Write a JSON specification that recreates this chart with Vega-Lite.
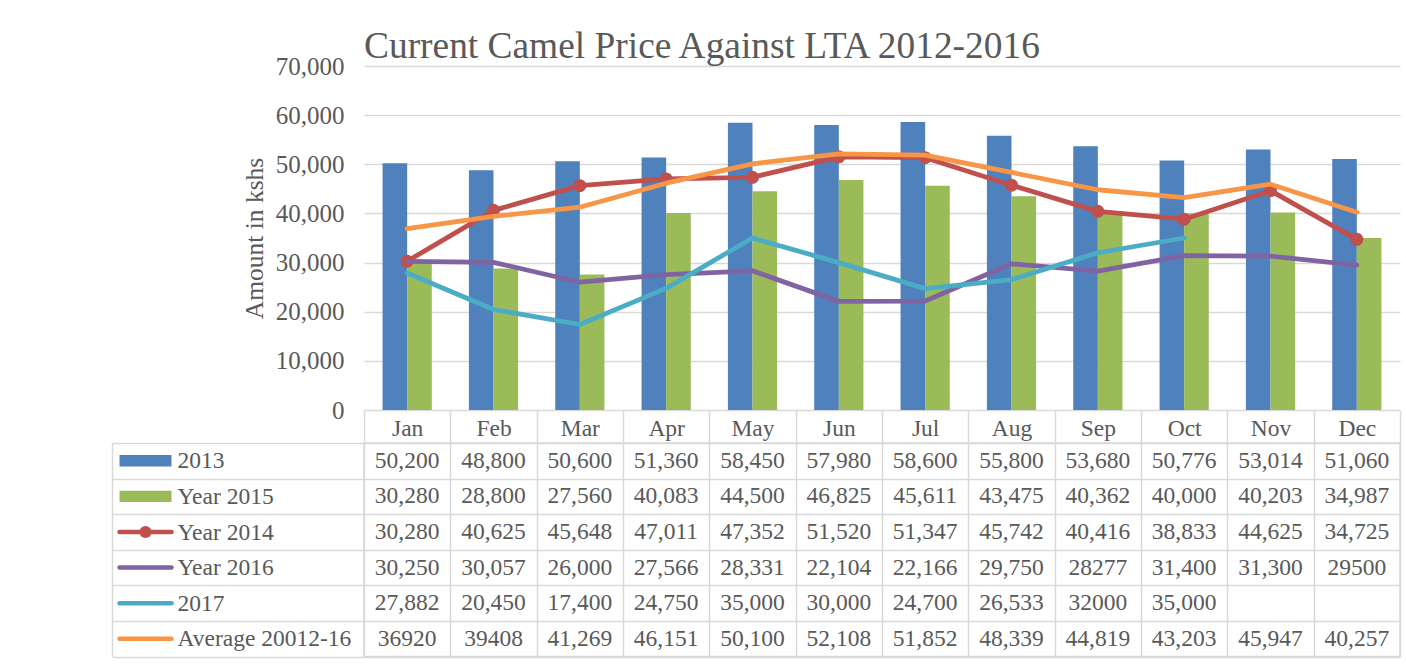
{
  "$schema": "https://vega.github.io/schema/vega-lite/v6.json",
  "padding": {"left": 110, "top": 27, "right": 8, "bottom": 14},
  "autosize": {"type": "pad"},
  "background": "white",
  "bounds": "flush",
  "columns": 2,
  "spacing": {"row": 33, "column": 185},
  "config": {
    "font": "Liberation Serif",
    "view": {"stroke": null},
    "axis": {"labelFont": "Liberation Serif", "titleFont": "Liberation Serif", "labelColor": "#595959", "titleColor": "#595959", "labelFontSize": 23.5, "titleFontSize": 25.5, "titleFontWeight": "normal"}
  },
  "datasets": {
    "prices": [
      {"month": "Jan", "series": "2013", "value": 50200, "label": "50,200"},
      {"month": "Feb", "series": "2013", "value": 48800, "label": "48,800"},
      {"month": "Mar", "series": "2013", "value": 50600, "label": "50,600"},
      {"month": "Apr", "series": "2013", "value": 51360, "label": "51,360"},
      {"month": "May", "series": "2013", "value": 58450, "label": "58,450"},
      {"month": "Jun", "series": "2013", "value": 57980, "label": "57,980"},
      {"month": "Jul", "series": "2013", "value": 58600, "label": "58,600"},
      {"month": "Aug", "series": "2013", "value": 55800, "label": "55,800"},
      {"month": "Sep", "series": "2013", "value": 53680, "label": "53,680"},
      {"month": "Oct", "series": "2013", "value": 50776, "label": "50,776"},
      {"month": "Nov", "series": "2013", "value": 53014, "label": "53,014"},
      {"month": "Dec", "series": "2013", "value": 51060, "label": "51,060"},
      {"month": "Jan", "series": "Year 2015", "value": 30280, "label": "30,280"},
      {"month": "Feb", "series": "Year 2015", "value": 28800, "label": "28,800"},
      {"month": "Mar", "series": "Year 2015", "value": 27560, "label": "27,560"},
      {"month": "Apr", "series": "Year 2015", "value": 40083, "label": "40,083"},
      {"month": "May", "series": "Year 2015", "value": 44500, "label": "44,500"},
      {"month": "Jun", "series": "Year 2015", "value": 46825, "label": "46,825"},
      {"month": "Jul", "series": "Year 2015", "value": 45611, "label": "45,611"},
      {"month": "Aug", "series": "Year 2015", "value": 43475, "label": "43,475"},
      {"month": "Sep", "series": "Year 2015", "value": 40362, "label": "40,362"},
      {"month": "Oct", "series": "Year 2015", "value": 40000, "label": "40,000"},
      {"month": "Nov", "series": "Year 2015", "value": 40203, "label": "40,203"},
      {"month": "Dec", "series": "Year 2015", "value": 34987, "label": "34,987"},
      {"month": "Jan", "series": "Year 2014", "value": 30280, "label": "30,280"},
      {"month": "Feb", "series": "Year 2014", "value": 40625, "label": "40,625"},
      {"month": "Mar", "series": "Year 2014", "value": 45648, "label": "45,648"},
      {"month": "Apr", "series": "Year 2014", "value": 47011, "label": "47,011"},
      {"month": "May", "series": "Year 2014", "value": 47352, "label": "47,352"},
      {"month": "Jun", "series": "Year 2014", "value": 51520, "label": "51,520"},
      {"month": "Jul", "series": "Year 2014", "value": 51347, "label": "51,347"},
      {"month": "Aug", "series": "Year 2014", "value": 45742, "label": "45,742"},
      {"month": "Sep", "series": "Year 2014", "value": 40416, "label": "40,416"},
      {"month": "Oct", "series": "Year 2014", "value": 38833, "label": "38,833"},
      {"month": "Nov", "series": "Year 2014", "value": 44625, "label": "44,625"},
      {"month": "Dec", "series": "Year 2014", "value": 34725, "label": "34,725"},
      {"month": "Jan", "series": "Year 2016", "value": 30250, "label": "30,250"},
      {"month": "Feb", "series": "Year 2016", "value": 30057, "label": "30,057"},
      {"month": "Mar", "series": "Year 2016", "value": 26000, "label": "26,000"},
      {"month": "Apr", "series": "Year 2016", "value": 27566, "label": "27,566"},
      {"month": "May", "series": "Year 2016", "value": 28331, "label": "28,331"},
      {"month": "Jun", "series": "Year 2016", "value": 22104, "label": "22,104"},
      {"month": "Jul", "series": "Year 2016", "value": 22166, "label": "22,166"},
      {"month": "Aug", "series": "Year 2016", "value": 29750, "label": "29,750"},
      {"month": "Sep", "series": "Year 2016", "value": 28277, "label": "28277"},
      {"month": "Oct", "series": "Year 2016", "value": 31400, "label": "31,400"},
      {"month": "Nov", "series": "Year 2016", "value": 31300, "label": "31,300"},
      {"month": "Dec", "series": "Year 2016", "value": 29500, "label": "29500"},
      {"month": "Jan", "series": "2017", "value": 27882, "label": "27,882"},
      {"month": "Feb", "series": "2017", "value": 20450, "label": "20,450"},
      {"month": "Mar", "series": "2017", "value": 17400, "label": "17,400"},
      {"month": "Apr", "series": "2017", "value": 24750, "label": "24,750"},
      {"month": "May", "series": "2017", "value": 35000, "label": "35,000"},
      {"month": "Jun", "series": "2017", "value": 30000, "label": "30,000"},
      {"month": "Jul", "series": "2017", "value": 24700, "label": "24,700"},
      {"month": "Aug", "series": "2017", "value": 26533, "label": "26,533"},
      {"month": "Sep", "series": "2017", "value": 32000, "label": "32000"},
      {"month": "Oct", "series": "2017", "value": 35000, "label": "35,000"},
      {"month": "Jan", "series": "Average 20012-16", "value": 36920, "label": "36920"},
      {"month": "Feb", "series": "Average 20012-16", "value": 39408, "label": "39408"},
      {"month": "Mar", "series": "Average 20012-16", "value": 41269, "label": "41,269"},
      {"month": "Apr", "series": "Average 20012-16", "value": 46151, "label": "46,151"},
      {"month": "May", "series": "Average 20012-16", "value": 50100, "label": "50,100"},
      {"month": "Jun", "series": "Average 20012-16", "value": 52108, "label": "52,108"},
      {"month": "Jul", "series": "Average 20012-16", "value": 51852, "label": "51,852"},
      {"month": "Aug", "series": "Average 20012-16", "value": 48339, "label": "48,339"},
      {"month": "Sep", "series": "Average 20012-16", "value": 44819, "label": "44,819"},
      {"month": "Oct", "series": "Average 20012-16", "value": 43203, "label": "43,203"},
      {"month": "Nov", "series": "Average 20012-16", "value": 45947, "label": "45,947"},
      {"month": "Dec", "series": "Average 20012-16", "value": 40257, "label": "40,257"}
    ]
  },
  "concat": [
    {"width": 67, "height": 344, "data": {"values": []}, "mark": "point"},
    {
      "width": 1036,
      "height": 344,
      "title": {"text": "Current Camel Price Against LTA 2012-2016", "anchor": "start", "frame": "group", "fontSize": 37.4, "fontWeight": "normal", "color": "#595959", "baseline": "alphabetic", "offset": -41, "dx": 0},
      "data": {"name": "prices"},
      "encoding": {
        "x": {"field": "month", "type": "nominal", "sort": ["Jan", "Feb", "Mar", "Apr", "May", "Jun", "Jul", "Aug", "Sep", "Oct", "Nov", "Dec"], "scale": {"type": "band", "paddingInner": 0.43, "paddingOuter": 0.215}, "axis": null},
        "y": {"field": "value", "type": "quantitative", "scale": {"domain": [0, 70000], "nice": false}, "axis": {"values": [0, 10000, 20000, 30000, 40000, 50000, 60000, 70000], "format": ",d", "title": "Amount in kshs", "ticks": false, "domain": false, "labelFontSize": 25, "labelPadding": 20, "titlePadding": 8, "gridColor": "#D9D9D9", "gridWidth": 1.5}},
        "color": {"field": "series", "type": "nominal", "scale": {"domain": ["2013", "Year 2015", "Year 2014", "Year 2016", "2017", "Average 20012-16"], "range": ["#4F81BD", "#9BBB59", "#C0504D", "#8064A2", "#4BACC6", "#F79646"]}, "legend": null}
      },
      "layer": [
        {"transform": [{"filter": "datum.series === '2013' || datum.series === 'Year 2015'"}], "mark": {"type": "bar"}, "encoding": {"xOffset": {"field": "series", "type": "nominal", "sort": ["2013", "Year 2015"]}}},
        {"transform": [{"filter": "datum.series === 'Year 2014'"}], "mark": {"type": "line", "strokeWidth": 4.8, "strokeJoin": "round", "strokeCap": "round"}},
        {"transform": [{"filter": "datum.series === 'Year 2014'"}], "mark": {"type": "point", "filled": true, "size": 170, "opacity": 1}},
        {"transform": [{"filter": "datum.series === 'Year 2016'"}], "mark": {"type": "line", "strokeWidth": 4.8, "strokeJoin": "round", "strokeCap": "round"}},
        {"transform": [{"filter": "datum.series === '2017'"}], "mark": {"type": "line", "strokeWidth": 4.8, "strokeJoin": "round", "strokeCap": "round"}},
        {"transform": [{"filter": "datum.series === 'Average 20012-16'"}], "mark": {"type": "line", "strokeWidth": 4.8, "strokeJoin": "round", "strokeCap": "round"}}
      ]
    },
    {
      "width": 67,
      "height": 213.6,
      "data": {"name": "prices"},
      "transform": [{"filter": "datum.month === 'Jan'"}],
      "encoding": {
        "y": {"field": "series", "type": "nominal", "sort": ["2013", "Year 2015", "Year 2014", "Year 2016", "2017", "Average 20012-16"], "scale": {"type": "band", "paddingInner": 0, "paddingOuter": 0}, "axis": {"title": null, "labels": false, "ticks": false, "grid": false, "domain": true, "domainColor": "#D9D9D9", "domainWidth": 1.5}},
        "color": {"field": "series", "type": "nominal", "scale": {"domain": ["2013", "Year 2015", "Year 2014", "Year 2016", "2017", "Average 20012-16"], "range": ["#4F81BD", "#9BBB59", "#C0504D", "#8064A2", "#4BACC6", "#F79646"]}, "legend": null}
      },
      "layer": [
        {"transform": [{"filter": "datum.series === '2013' || datum.series === 'Year 2015'"}], "mark": {"type": "point", "shape": "M-1,-0.22H1V0.22H-1Z", "size": 2704, "filled": true, "opacity": 1}},
        {"transform": [{"filter": "datum.series !== '2013' && datum.series !== 'Year 2015'"}], "mark": {"type": "point", "shape": "M-1,0H1", "size": 2704, "filled": false, "strokeWidth": 4.5, "strokeCap": "round", "opacity": 1}},
        {"transform": [{"filter": "datum.series === 'Year 2014'"}], "mark": {"type": "point", "shape": "circle", "size": 150, "filled": true, "opacity": 1}}
      ]
    },
    {
      "width": 1036,
      "height": 213.6,
      "view": {"stroke": "#D9D9D9", "strokeWidth": 1.5},
      "data": {"name": "prices"},
      "mark": {"type": "text", "fontSize": 23.5, "color": "#595959", "baseline": "middle", "align": "center"},
      "encoding": {
        "x": {"field": "month", "type": "nominal", "sort": ["Jan", "Feb", "Mar", "Apr", "May", "Jun", "Jul", "Aug", "Sep", "Oct", "Nov", "Dec"], "scale": {"type": "band", "paddingInner": 0, "paddingOuter": 0}, "axis": {"orient": "top", "title": null, "tickBand": "extent", "tickSize": 33, "tickColor": "#D9D9D9", "tickWidth": 1.5, "grid": true, "gridColor": "#D9D9D9", "gridWidth": 1.5, "domain": false, "labelPadding": -18, "labelBaseline": "middle", "labelAngle": 0}},
        "y": {"field": "series", "type": "nominal", "sort": ["2013", "Year 2015", "Year 2014", "Year 2016", "2017", "Average 20012-16"], "scale": {"type": "band", "paddingInner": 0, "paddingOuter": 0}, "axis": {"orient": "left", "title": null, "tickBand": "extent", "tickSize": 252, "tickColor": "#D9D9D9", "tickWidth": 1.5, "grid": true, "gridColor": "#D9D9D9", "gridWidth": 1.5, "domain": false, "labelAlign": "left", "labelPadding": -65, "labelBaseline": "middle", "labelLimit": 400}},
        "text": {"field": "label", "type": "nominal"}
      }
    }
  ]
}
